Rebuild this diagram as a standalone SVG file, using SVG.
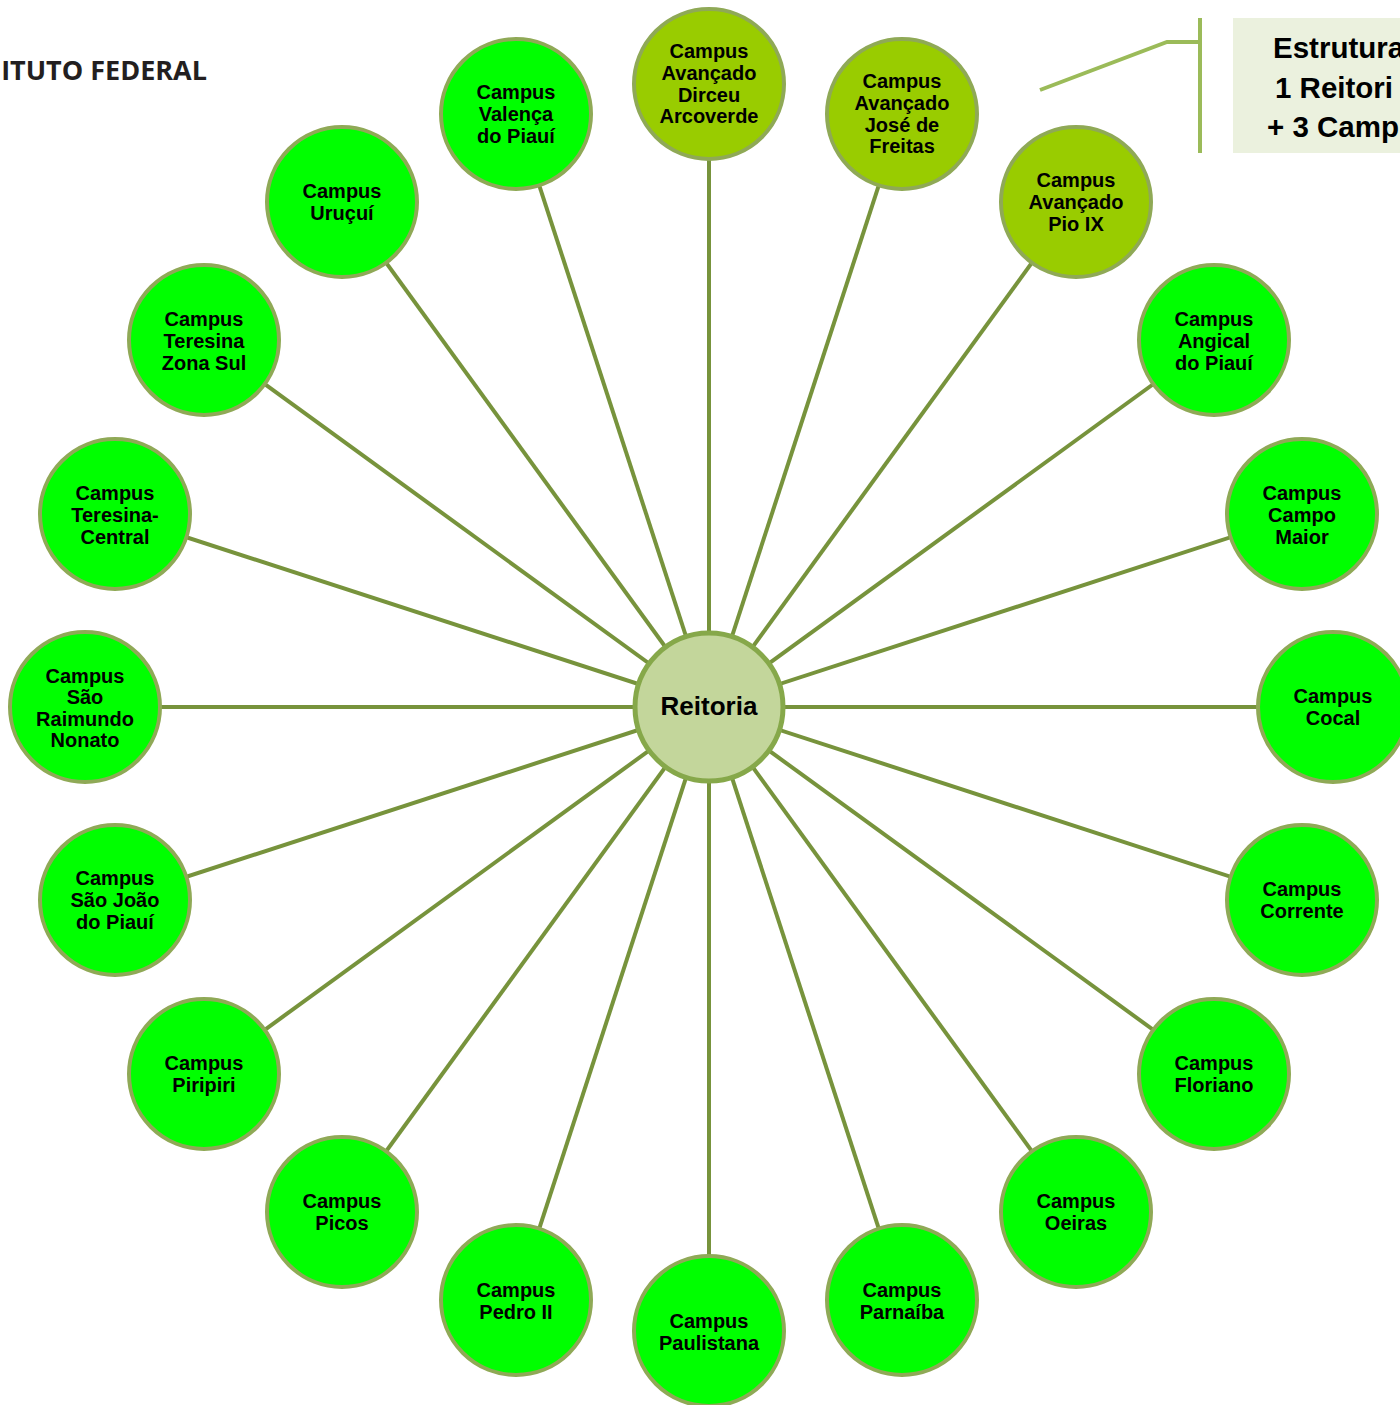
<svg xmlns="http://www.w3.org/2000/svg" width="1400" height="1405" viewBox="0 0 1400 1405">
<style>
.n circle{fill:#00FF00;stroke:#8FA956;stroke-width:4}
.a circle{fill:#99CC00;stroke:#8FA956;stroke-width:4}
.r circle{fill:#C3D69B;stroke:#86A84A;stroke-width:5}
text{font-family:"Liberation Sans",Arial,sans-serif;font-weight:bold;fill:#000;text-anchor:middle;font-size:20px}
#connectors line{stroke:#77933C;stroke-width:4}
</style>
<rect width="1400" height="1405" fill="#fff"/>
<text x="207" y="80" style="font-family:'Open Sans','Noto Sans',sans-serif;font-size:27px;fill:#231F20;text-anchor:end">ITUTO FEDERAL</text>
<g id="legend">
<rect x="1233" y="18" width="170" height="135" fill="#EBF1DE"/>
<polyline points="1040,90 1167,42 1200,42" fill="none" stroke="#9BBB59" stroke-width="4"/>
<line x1="1200" y1="18" x2="1200" y2="153" stroke="#9BBB59" stroke-width="4"/>
<text x="1273" y="58" style="font-size:29.5px;text-anchor:start">Estrutura</text>
<text x="1275" y="98" style="font-size:29.5px;text-anchor:start">1 Reitori</text>
<text x="1267" y="137" style="font-size:29.5px;text-anchor:start">+ 3 Camp</text>
</g>
<g id="connectors">
<line x1="709" y1="707" x2="709" y2="84"/>
<line x1="709" y1="707" x2="902" y2="114"/>
<line x1="709" y1="707" x2="1076" y2="202"/>
<line x1="709" y1="707" x2="1214" y2="340"/>
<line x1="709" y1="707" x2="1302" y2="514"/>
<line x1="709" y1="707" x2="1333" y2="707"/>
<line x1="709" y1="707" x2="1302" y2="900"/>
<line x1="709" y1="707" x2="1214" y2="1074"/>
<line x1="709" y1="707" x2="1076" y2="1212"/>
<line x1="709" y1="707" x2="902" y2="1300"/>
<line x1="709" y1="707" x2="709" y2="1331"/>
<line x1="709" y1="707" x2="516" y2="1300"/>
<line x1="709" y1="707" x2="342" y2="1212"/>
<line x1="709" y1="707" x2="204" y2="1074"/>
<line x1="709" y1="707" x2="115" y2="900"/>
<line x1="709" y1="707" x2="85" y2="707"/>
<line x1="709" y1="707" x2="115" y2="514"/>
<line x1="709" y1="707" x2="204" y2="340"/>
<line x1="709" y1="707" x2="342" y2="202"/>
<line x1="709" y1="707" x2="516" y2="114"/>
</g>
<g id="reitoria" class="r"><circle cx="709" cy="707" r="74"/><text x="709" y="715" style="font-size:26px">Reitoria</text></g>
<g id="dirceu" class="a"><circle cx="709" cy="84" r="75"/><text x="709" y="58">Campus</text><text x="709" y="80">Avançado</text><text x="709" y="102">Dirceu</text><text x="709" y="123">Arcoverde</text></g>
<g id="josefreitas" class="a"><circle cx="902" cy="114" r="75"/><text x="902" y="88">Campus</text><text x="902" y="110">Avançado</text><text x="902" y="132">José de</text><text x="902" y="153">Freitas</text></g>
<g id="pioix" class="a"><circle cx="1076" cy="202" r="75"/><text x="1076" y="187">Campus</text><text x="1076" y="209">Avançado</text><text x="1076" y="231">Pio IX</text></g>
<g id="angical" class="n"><circle cx="1214" cy="340" r="75"/><text x="1214" y="326">Campus</text><text x="1214" y="348">Angical</text><text x="1214" y="370">do Piauí</text></g>
<g id="campomaior" class="n"><circle cx="1302" cy="514" r="75"/><text x="1302" y="500">Campus</text><text x="1302" y="522">Campo</text><text x="1302" y="544">Maior</text></g>
<g id="cocal" class="n"><circle cx="1333" cy="707" r="75"/><text x="1333" y="703">Campus</text><text x="1333" y="725">Cocal</text></g>
<g id="corrente" class="n"><circle cx="1302" cy="900" r="75"/><text x="1302" y="896">Campus</text><text x="1302" y="918">Corrente</text></g>
<g id="floriano" class="n"><circle cx="1214" cy="1074" r="75"/><text x="1214" y="1070">Campus</text><text x="1214" y="1092">Floriano</text></g>
<g id="oeiras" class="n"><circle cx="1076" cy="1212" r="75"/><text x="1076" y="1208">Campus</text><text x="1076" y="1230">Oeiras</text></g>
<g id="parnaiba" class="n"><circle cx="902" cy="1300" r="75"/><text x="902" y="1297">Campus</text><text x="902" y="1319">Parnaíba</text></g>
<g id="paulistana" class="n"><circle cx="709" cy="1331" r="75"/><text x="709" y="1328">Campus</text><text x="709" y="1350">Paulistana</text></g>
<g id="pedroii" class="n"><circle cx="516" cy="1300" r="75"/><text x="516" y="1297">Campus</text><text x="516" y="1319">Pedro II</text></g>
<g id="picos" class="n"><circle cx="342" cy="1212" r="75"/><text x="342" y="1208">Campus</text><text x="342" y="1230">Picos</text></g>
<g id="piripiri" class="n"><circle cx="204" cy="1074" r="75"/><text x="204" y="1070">Campus</text><text x="204" y="1092">Piripiri</text></g>
<g id="saojoao" class="n"><circle cx="115" cy="900" r="75"/><text x="115" y="885">Campus</text><text x="115" y="907">São João</text><text x="115" y="929">do Piauí</text></g>
<g id="saoraimundo" class="n"><circle cx="85" cy="707" r="75"/><text x="85" y="683">Campus</text><text x="85" y="704">São</text><text x="85" y="726">Raimundo</text><text x="85" y="747">Nonato</text></g>
<g id="teresinacentral" class="n"><circle cx="115" cy="514" r="75"/><text x="115" y="500">Campus</text><text x="115" y="522">Teresina-</text><text x="115" y="544">Central</text></g>
<g id="teresinazonasul" class="n"><circle cx="204" cy="340" r="75"/><text x="204" y="326">Campus</text><text x="204" y="348">Teresina</text><text x="204" y="370">Zona Sul</text></g>
<g id="urucui" class="n"><circle cx="342" cy="202" r="75"/><text x="342" y="198">Campus</text><text x="342" y="220">Uruçuí</text></g>
<g id="valenca" class="n"><circle cx="516" cy="114" r="75"/><text x="516" y="99">Campus</text><text x="516" y="121">Valença</text><text x="516" y="143">do Piauí</text></g>
</svg>
